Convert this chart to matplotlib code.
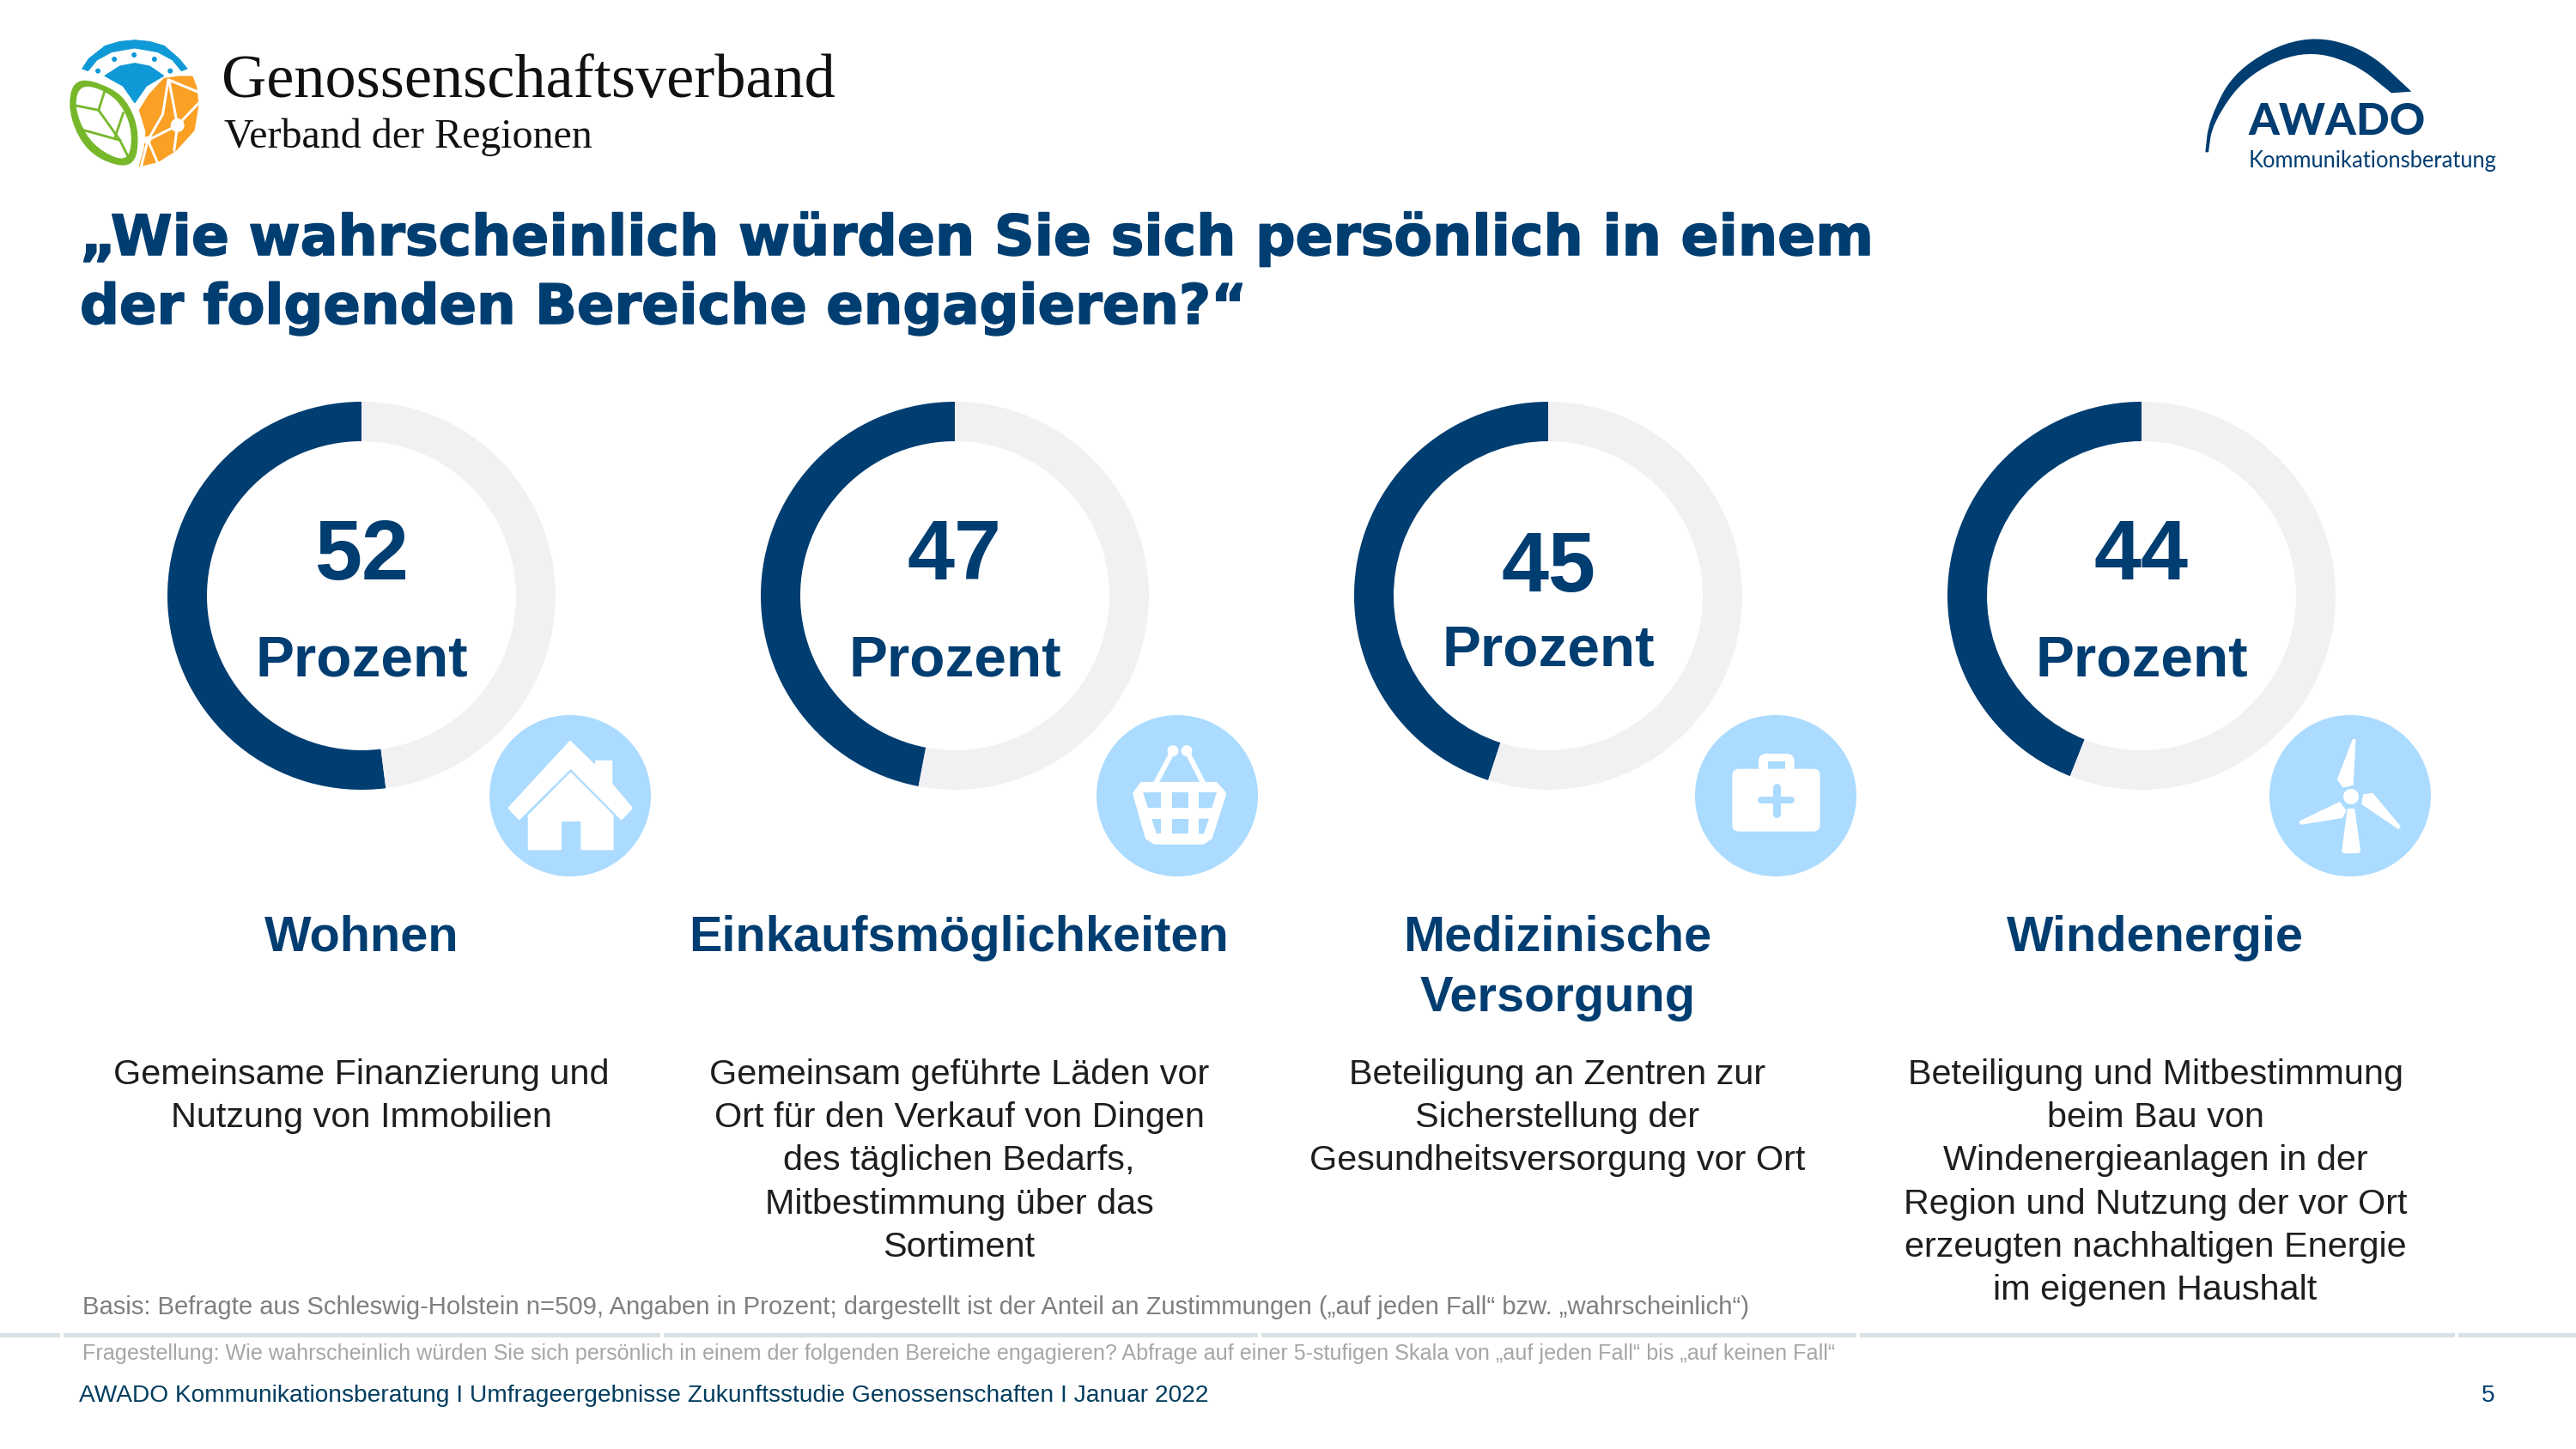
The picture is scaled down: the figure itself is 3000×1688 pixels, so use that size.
import numpy as np
from matplotlib import pyplot as plt
from matplotlib import patheffects
from matplotlib.patches import Circle, Polygon, FancyBboxPatch, PathPatch, Rectangle
from matplotlib.path import Path

# survey values
values = [52, 47, 45, 44]
unit = 'Prozent'
headers = [['Wohnen'], ['Einkaufsmöglichkeiten'], ['Medizinische', 'Versorgung'], ['Windenergie']]
descriptions = [
    ['Gemeinsame Finanzierung und', 'Nutzung von Immobilien'],
    ['Gemeinsam geführte Läden vor', 'Ort für den Verkauf von Dingen', 'des täglichen Bedarfs,',
     'Mitbestimmung über das', 'Sortiment'],
    ['Beteiligung an Zentren zur', 'Sicherstellung der', 'Gesundheitsversorgung vor Ort'],
    ['Beteiligung und Mitbestimmung', 'beim Bau von', 'Windenergieanlagen in der',
     'Region und Nutzung der vor Ort', 'erzeugten nachhaltigen Energie', 'im eigenen Haushalt'],
]
title_lines = ['„Wie wahrscheinlich würden Sie sich persönlich in einem',
               'der folgenden Bereiche engagieren?“']
basis_text = 'Basis: Befragte aus Schleswig-Holstein n=509, Angaben in Prozent; dargestellt ist der Anteil an Zustimmungen („auf jeden Fall“ bzw. „wahrscheinlich“)'
question_text = 'Fragestellung: Wie wahrscheinlich würden Sie sich persönlich in einem der folgenden Bereiche engagieren? Abfrage auf einer 5-stufigen Skala von „auf jeden Fall“ bis „auf keinen Fall“'
footer_text = 'AWADO Kommunikationsberatung I Umfrageergebnisse Zukunftsstudie Genossenschaften I Januar 2022'
page_number = '5'

W, H = 3000, 1688
NAVY = '#003D71'
RING_BG = '#F1F1F3'
ICON_BG = '#ABDBFF'
SANS = 'Liberation Sans'
LW = 72 / 200  # pixels to points at 200 dpi

plt.rcParams['font.family'] = [SANS, 'DejaVu Sans']

fig = plt.figure(figsize=(15, 8.44), dpi=200, facecolor='white')
ax = fig.add_axes([0, 0, 1, 1], zorder=2)
ax.set_xlim(0, W)
ax.set_ylim(H, 0)
ax.axis('off')


def smooth(pts, color, **kw):
    # quadratic spline through the midpoints of the given outline
    pts = np.array(pts, dtype=float)
    mids = (pts + np.roll(pts, -1, axis=0)) / 2
    verts = [mids[-1]]
    codes = [Path.MOVETO]
    for p, m in zip(pts, mids):
        verts += [p, m]
        codes += [Path.CURVE3, Path.CURVE3]
    ax.add_patch(PathPatch(Path(verts, codes), facecolor=color, edgecolor='none', **kw))


def poly(pts, color, ox=0, oy=0, k=1 / 3, ky=None, **kw):
    ky = k if ky is None else ky
    p = [(ox + x * k, oy + y * ky) for x, y in pts]
    ax.add_patch(Polygon(p, closed=True, facecolor=color, edgecolor=color,
                         linewidth=kw.pop('lw', 0.6), joinstyle='round', **kw))


def round_box(x0, y0, x1, y1, r, color):
    ax.add_patch(FancyBboxPatch((x0 + r, y0 + r), x1 - x0 - 2 * r, y1 - y0 - 2 * r,
                                boxstyle='round,pad=%f' % r, facecolor=color, edgecolor='none'))


def draw_house(cx, cy):
    ox, oy = cx - 313 / 3, cy - 322 / 3
    poly([(313, 135), (405, 225), (405, 203), (456, 203), (456, 282), (526, 365), (492, 401),
          (315, 222), (135, 401), (101, 365)], 'white', ox, oy, lw=1.2)
    poly([(315, 246), (460, 392), (460, 507), (355, 507), (355, 407), (278, 407), (278, 507),
          (170, 507), (170, 392)], 'white', ox, oy, lw=1.2)


def draw_basket(cx, cy):
    ox, oy = cx - 317 / 3, cy - 322 / 3
    k = 1 / 3
    for a, b in [((302, 165), (240, 282)), ((350, 165), (410, 282))]:
        ax.plot([ox + a[0] * k, ox + b[0] * k], [oy + a[1] * k, oy + b[1] * k], color='white', lw=6 * LW,
                solid_capstyle='round')
    for x in (302, 350):
        ax.add_patch(Circle((ox + x * k, oy + 165 * k), 6.5, facecolor='white', edgecolor='none'))
    poly([(195, 284), (450, 284), (478, 315), (430, 466), (405, 482), (240, 482), (215, 466), (172, 315)],
         'white', ox, oy, lw=2.5)
    holes = [[(198, 310), (260, 310), (260, 365), (215, 365)], [(298, 310), (355, 310), (355, 365), (298, 365)],
             [(392, 310), (455, 310), (438, 365), (392, 365)], [(227, 402), (260, 402), (260, 455), (245, 455)],
             [(298, 402), (355, 402), (355, 455), (298, 455)], [(392, 402), (428, 402), (410, 455), (392, 455)]]
    for h in holes:
        poly(h, ICON_BG, ox, oy, lw=0)


def draw_kit(cx, cy):
    ox, oy = cx - 310 / 3, cy - 322 / 3
    k = 1 / 3
    round_box(ox + 250 * k, oy + 175 * k, ox + 375 * k, oy + 245 * k, 9, 'white')
    ax.add_patch(Rectangle((ox + 282 * k, oy + 201 * k), 61 * k, 27 * k, facecolor=ICON_BG, edgecolor='none'))
    round_box(ox + 158 * k, oy + 228 * k, ox + 465 * k, oy + 447 * k, 8, 'white')
    ax.plot([ox + 260 * k, ox + 365 * k], [oy + 338 * k, oy + 338 * k], color=ICON_BG, lw=8 * LW, solid_capstyle='round')
    ax.plot([ox + 313 * k, ox + 313 * k], [oy + 292 * k, oy + 385 * k], color=ICON_BG, lw=9 * LW, solid_capstyle='round')


def draw_turbine(cx, cy):
    ox, oy = cx - 322 / 3, cy - 322 / 3
    k = 1 / 3
    ax.add_patch(Circle((ox + 325 * k, oy + 325 * k), 27 * k, facecolor='white', edgecolor='none'))
    blades = [[(333, 127), (338, 127), (330, 283), (298, 290), (280, 265)],
              [(370, 320), (400, 316), (495, 430), (490, 435), (365, 350)],
              [(285, 347), (305, 375), (292, 397), (150, 420), (147, 413)],
              [(315, 370), (335, 370), (355, 515), (350, 520), (300, 520), (296, 515)]]
    for b in blades:
        poly(b, 'white', ox, oy, lw=0.8)


# donut rings with the share drawn from the top counterclockwise
ring_x = [421, 1112, 1803, 2494]
ring_y = 694
ring_r = 226
ring_w = 46
for x, v in zip(ring_x, values):
    rax = fig.add_axes([(x - ring_r) / W, 1 - (ring_y + ring_r) / H, 2 * ring_r / W, 2 * ring_r / H], zorder=1)
    rax.pie([v, 100 - v], colors=[NAVY, RING_BG], startangle=90, counterclock=True, radius=1,
            wedgeprops={'width': ring_w / ring_r, 'linewidth': 0})
    rax.set_xlim(-1, 1)
    rax.set_ylim(-1, 1)

# big numbers; the third ring sits a little differently in the source
value_base = [675, 675, 689, 675]
unit_base = [788, 788, 776, 788]
for x, v, vb, ub in zip(ring_x, values, value_base, unit_base):
    ax.text(x, vb, str(v), color=NAVY, fontsize=35.6, fontweight='bold', ha='center', va='baseline')
    ax.text(x, ub, unit, color=NAVY, fontsize=24.3, fontweight='bold', ha='center', va='baseline')

# icons
icon_x = [664, 1371, 2068, 2737]
icon_y = 927
for x, fn in zip(icon_x, [draw_house, draw_basket, draw_kit, draw_turbine]):
    ax.add_patch(Circle((x, icon_y), 94, facecolor=ICON_BG, edgecolor='none'))
    fn(x, icon_y)

# column texts
col_x = [421, 1117, 1814, 2510]
for x, head, desc in zip(col_x, headers, descriptions):
    for i, line in enumerate(head):
        ax.text(x, 1108 + i * 70, line, color=NAVY, fontsize=20.8, fontweight='bold', ha='center', va='baseline')
    for i, line in enumerate(desc):
        ax.text(x, 1263 + i * 50.2, line, color='#1E1E1E', fontsize=14.9, ha='center', va='baseline')

# title, Verdana-like weight comes from a thin outline
for i, (line, size) in enumerate(zip(title_lines, [23.4, 23.1])):
    ax.text(93, 297 + i * 80, line, color=NAVY, fontsize=size, fontweight='bold', family='DejaVu Sans',
            ha='left', va='baseline',
            path_effects=[patheffects.withStroke(linewidth=0.6, foreground=NAVY)])

# footer
ax.text(96, 1531, basis_text, color='#7F7F7F', fontsize=10.56, ha='left', va='baseline')
for x0, x1 in [(0, 70), (74, 769), (773, 1465), (1469, 2162), (2166, 2859), (2863, 3000)]:
    ax.add_patch(Rectangle((x0, 1553), x1 - x0, 5, facecolor='#D9E2E6', edgecolor='none'))
ax.text(96, 1584, question_text, color='#A6A6A6', fontsize=9.06, ha='left', va='baseline')
ax.text(92, 1633, footer_text, color='#003D5F', fontsize=10.15, ha='left', va='baseline')
ax.text(2898, 1633, page_number, color='#003D71', fontsize=10.15, ha='center', va='baseline')

# AWADO logo, top right; tripled points keep the arc ends sharp
k = 1 / 3
ox, oy = 2540, 30
arc = [(85, 442)] * 3 + [(97, 330), (190, 150), (420, 30), (640, 75)] + [(805, 230)] * 3 + [(735, 235)] * 3 + \
      [(600, 125), (420, 85), (225, 175), (110, 340)] + [(96, 442)] * 3
smooth([(ox + x * k, oy + y * k) for x, y in arc], NAVY)
ax.text(2618, 157, 'AWADO', color=NAVY, fontsize=18.4, fontweight='black', family='Lato', ha='left', va='baseline')
ax.text(2619, 195, 'Kommunikationsberatung', color=NAVY, fontsize=9.2, family='Lato', ha='left', va='baseline')

# association logo, top left; the crop was squeezed horizontally, hence two scales
kx, ky = 1 / 2.613, 1 / 3
blue = '#0F99D6'
green = '#76B82A'
orange = '#F9A025'
top_arc = [(250, 240), (270, 205), (320, 160), (365, 145), (410, 140), (455, 145), (500, 160), (545, 205), (570, 240),
           (552, 248), (525, 210), (480, 182), (410, 168), (340, 182), (295, 210), (268, 248)]
poly(top_arc, blue, k=kx, ky=ky, lw=0.3)
for x, y in [(298, 248), (348, 207), (408, 192), (470, 207), (518, 248)]:
    ax.add_patch(Circle((kx * x, ky * y), 3, facecolor=blue, edgecolor='none'))
poly([(320, 265), (365, 232), (410, 222), (455, 232), (497, 265), (445, 300), (410, 358), (375, 300)], blue, k=kx, ky=ky)
leaf = [(232, 268), (205, 360), (235, 480), (300, 560), (408, 590), (425, 470), (395, 365), (340, 305)]
smooth([(kx * x, ky * y) for x, y in leaf], green)
leaf_in = [(247, 292), (225, 365), (258, 470), (315, 535), (390, 565), (404, 470), (378, 380), (330, 322)]
smooth([(kx * x, ky * y) for x, y in leaf_in], 'white')
for seg in [[(318, 320), (300, 385), (365, 490), (395, 560)], [(235, 370), (300, 385)], [(375, 395), (350, 480)],
            [(255, 455), (365, 490)]]:
    ax.plot([kx * p[0] for p in seg], [ky * p[1] for p in seg], color=green, lw=2.8 * LW)
poly([(425, 385), (455, 330), (500, 275), (545, 268), (585, 268), (597, 305), (603, 365), (590, 455), (535, 525),
      (480, 565), (425, 580), (440, 520), (445, 460)], orange, k=kx, ky=ky)
for seg in [[(512, 280), (495, 400), (450, 490)], [(515, 285), (540, 438)], [(540, 438), (450, 490), (480, 570)],
            [(540, 438), (530, 525)], [(540, 438), (605, 360)], [(515, 280), (600, 320)], [(450, 490), (430, 580)]]:
    ax.plot([kx * p[0] for p in seg], [ky * p[1] for p in seg], color='white', lw=3 * LW)
ax.add_patch(Circle((kx * 540, ky * 438), 8, facecolor='white', edgecolor='none'))
ax.add_patch(Circle((kx * 448, ky * 490), 4.5, facecolor='white', edgecolor='none'))

ax.text(258, 113, 'Genossenschaftsverband', color='#111111', fontsize=26, family='Liberation Serif', ha='left', va='baseline')
ax.text(261, 172, 'Verband der Regionen', color='#111111', fontsize=17.3, family='Liberation Serif', ha='left', va='baseline')

fig.savefig('out.png', dpi=200)
